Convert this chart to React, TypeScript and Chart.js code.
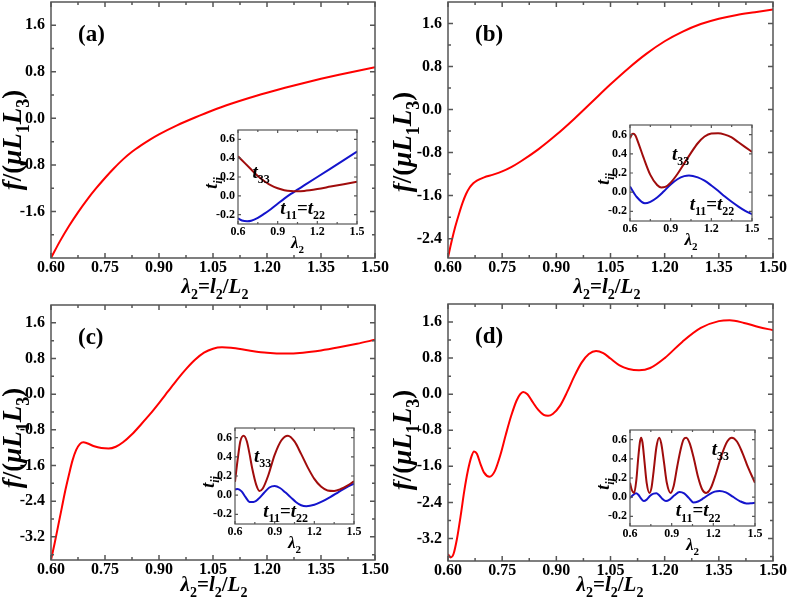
import React, { useEffect, useRef } from 'react';
import { Chart, registerables } from 'chart.js';

Chart.register(...registerables);

// ---------------- data ----------------
const xA = [0.6, 0.625, 0.65, 0.675, 0.7, 0.725, 0.75, 0.775, 0.8, 0.825, 0.85, 0.875, 0.9, 0.95, 1.0, 1.05, 1.1, 1.15, 1.2, 1.25, 1.3, 1.35, 1.4, 1.45, 1.5];
const fA = [-2.4, -2.11, -1.85, -1.615, -1.4, -1.205, -1.025, -0.858, -0.705, -0.575, -0.465, -0.365, -0.275, -0.12, 0.015, 0.14, 0.25, 0.35, 0.44, 0.525, 0.605, 0.68, 0.75, 0.815, 0.88];

const xB = [0.6, 0.61, 0.62, 0.63, 0.64, 0.65, 0.66, 0.67, 0.68, 0.7, 0.725, 0.75, 0.775, 0.8, 0.85, 0.9, 0.95, 1.0, 1.05, 1.1, 1.15, 1.2, 1.25, 1.3, 1.35, 1.4, 1.45, 1.5];
const fB = [-2.75, -2.45, -2.18, -1.95, -1.74, -1.57, -1.45, -1.37, -1.32, -1.26, -1.21, -1.15, -1.07, -0.97, -0.74, -0.47, -0.17, 0.15, 0.47, 0.77, 1.04, 1.27, 1.45, 1.59, 1.69, 1.76, 1.81, 1.86];

const xC = [0.6, 0.61, 0.62, 0.63, 0.64, 0.65, 0.66, 0.67, 0.68, 0.69, 0.7, 0.72, 0.74, 0.76, 0.78, 0.8, 0.825, 0.85, 0.875, 0.9, 0.925, 0.95, 0.975, 1.0, 1.025, 1.05, 1.075, 1.1, 1.15, 1.2, 1.25, 1.3, 1.35, 1.4, 1.45, 1.5];
const fC = [-3.72, -3.35, -2.95, -2.55, -2.15, -1.8, -1.48, -1.25, -1.12, -1.08, -1.1, -1.17, -1.21, -1.22, -1.18, -1.08, -0.9, -0.68, -0.45, -0.2, 0.06, 0.32, 0.56, 0.77, 0.93, 1.02, 1.05, 1.04, 0.98, 0.93, 0.91, 0.93, 0.98, 1.05, 1.13, 1.22];

const xD = [0.6, 0.607, 0.615, 0.625, 0.635, 0.645, 0.655, 0.665, 0.672, 0.68, 0.69, 0.7, 0.715, 0.73, 0.745, 0.76, 0.775, 0.79, 0.8, 0.808, 0.82, 0.835, 0.85, 0.865, 0.877, 0.89, 0.91, 0.93, 0.95, 0.97, 0.99, 1.01, 1.03, 1.05, 1.075, 1.1, 1.129, 1.16, 1.2, 1.25, 1.3, 1.35, 1.38, 1.42, 1.46, 1.5];
const fD = [-3.55, -3.62, -3.55, -3.2, -2.7, -2.15, -1.7, -1.38, -1.27, -1.32, -1.55, -1.74, -1.83, -1.7, -1.35, -0.9, -0.48, -0.14, 0.0, 0.05, 0.0, -0.18, -0.35, -0.46, -0.48, -0.44, -0.26, 0.05, 0.4, 0.7, 0.89, 0.96, 0.91, 0.79, 0.64, 0.56, 0.53, 0.58, 0.8, 1.17, 1.47, 1.62, 1.64, 1.58, 1.49, 1.42];

// insets: t33 and t11 = t22
const a33x = [0.6, 0.65, 0.7, 0.75, 0.8, 0.85, 0.9, 0.95, 1.0, 1.05, 1.1, 1.2, 1.3, 1.4, 1.5];
const a33 = [0.42, 0.35, 0.28, 0.21, 0.155, 0.11, 0.08, 0.06, 0.05, 0.048, 0.052, 0.072, 0.098, 0.124, 0.15];
const a11x = [0.6, 0.63, 0.67, 0.7, 0.75, 0.8, 0.85, 0.9, 0.95, 1.0, 1.05, 1.1, 1.2, 1.3, 1.4, 1.5];
const a11 = [-0.24, -0.262, -0.27, -0.265, -0.235, -0.19, -0.14, -0.085, -0.03, 0.02, 0.065, 0.11, 0.2, 0.29, 0.38, 0.47];

const b33x = [0.6, 0.612, 0.625, 0.64, 0.66, 0.7, 0.75, 0.8, 0.83, 0.86, 0.9, 0.95, 1.0, 1.05, 1.1, 1.15, 1.2, 1.25, 1.3, 1.35, 1.4, 1.45, 1.5];
const b33 = [0.56, 0.6, 0.61, 0.59, 0.52, 0.36, 0.18, 0.075, 0.05, 0.055, 0.1, 0.19, 0.3, 0.41, 0.51, 0.58, 0.612, 0.615, 0.6, 0.57, 0.52, 0.47, 0.42];
const b11x = [0.6, 0.65, 0.71, 0.75, 0.8, 0.85, 0.9, 0.95, 1.0, 1.035, 1.1, 1.15, 1.2, 1.25, 1.3, 1.35, 1.4, 1.45, 1.5];
const b11 = [0.06, -0.05, -0.115, -0.1, -0.055, 0.01, 0.08, 0.135, 0.167, 0.175, 0.155, 0.12, 0.07, 0.015, -0.045, -0.1, -0.15, -0.195, -0.23];

const c33x = [0.6, 0.62, 0.64, 0.665, 0.69, 0.71, 0.73, 0.76, 0.785, 0.81, 0.85, 0.9, 0.95, 1.0, 1.05, 1.1, 1.15, 1.2, 1.25, 1.3, 1.35, 1.4, 1.45, 1.5];
const c33 = [0.14, 0.37, 0.56, 0.62, 0.56, 0.43, 0.28, 0.11, 0.045, 0.07, 0.2, 0.42, 0.57, 0.62, 0.56, 0.43, 0.29, 0.17, 0.09, 0.05, 0.045, 0.065, 0.1, 0.145];
const c11x = [0.6, 0.62, 0.65, 0.68, 0.71, 0.74, 0.78, 0.82, 0.86, 0.9, 0.94, 0.98, 1.02, 1.06, 1.1, 1.14, 1.2, 1.26, 1.32, 1.38, 1.44, 1.5];
const c11 = [0.06, 0.065, 0.04, -0.02, -0.07, -0.072, -0.035, 0.025, 0.08, 0.095, 0.075, 0.03, -0.02, -0.07, -0.105, -0.115, -0.1, -0.065, -0.02, 0.03, 0.08, 0.12];

const d33x = [0.6, 0.612, 0.63, 0.645, 0.66, 0.672, 0.68, 0.69, 0.705, 0.72, 0.74, 0.755, 0.77, 0.79, 0.81, 0.825, 0.845, 0.865, 0.892, 0.915, 0.94, 0.965, 0.985, 1.005, 1.03, 1.06, 1.09, 1.12, 1.148, 1.18, 1.22, 1.26, 1.3, 1.333, 1.37, 1.41, 1.45, 1.5];
const d33 = [0.15, 0.08, 0.045, 0.17, 0.42, 0.58, 0.62, 0.57, 0.36, 0.15, 0.045, 0.1, 0.27, 0.52, 0.62, 0.56, 0.36, 0.15, 0.045, 0.12, 0.32, 0.5, 0.6, 0.62, 0.56, 0.4, 0.21, 0.08, 0.045, 0.09, 0.25, 0.44, 0.58, 0.62, 0.58, 0.46, 0.31, 0.15];
const d11x = [0.6, 0.62, 0.644, 0.66, 0.68, 0.699, 0.72, 0.745, 0.77, 0.79, 0.81, 0.835, 0.859, 0.885, 0.92, 0.957, 0.99, 1.025, 1.056, 1.09, 1.13, 1.17, 1.21, 1.245, 1.29, 1.34, 1.39, 1.438, 1.47, 1.5];
const d11 = [-0.01, 0.02, 0.04, 0.025, -0.015, -0.04, -0.025, 0.015, 0.037, 0.04, 0.02, -0.02, -0.04, -0.025, 0.02, 0.055, 0.04, -0.01, -0.055, -0.045, -0.01, 0.03, 0.058, 0.065, 0.05, 0.005, -0.04, -0.065, -0.063, -0.058];

// tick labels
const mainXTicks = [0.6, 0.75, 0.9, 1.05, 1.2, 1.35, 1.5];
const mainYTicks = [1.6, 0.8, 0.0, -0.8, -1.6, -2.4, -3.2];
const insetXTicks = [0.6, 0.9, 1.2, 1.5];
const insetYTicks = [0.6, 0.4, 0.2, 0.0, -0.2];

// ---------------- styling / layout ----------------
const SERIF = '"Liberation Serif", "DejaVu Serif", "Times New Roman", Times, serif';
const RED = '#ff0000';
const DARKRED = '#a00c0c';
const BLUE = '#1414cc';
const FRAME = '#555555';

type Seg = { t: string; it?: boolean; sub?: boolean };

const X_TITLE: Seg[] = [{ t: 'λ', it: true }, { t: '2', sub: true }, { t: '=' }, { t: 'l', it: true }, { t: '2', sub: true }, { t: '/' }, { t: 'L', it: true }, { t: '2', sub: true }];
const Y_TITLE: Seg[] = [{ t: 'f', it: true }, { t: '/' }, { t: '(' }, { t: 'μ', it: true }, { t: 'L', it: true }, { t: '1', sub: true }, { t: 'L', it: true }, { t: '3', sub: true }, { t: ')' }];
const IN_X_TITLE: Seg[] = [{ t: 'λ', it: true }, { t: '2', sub: true }];
const IN_Y_TITLE: Seg[] = [{ t: 't', it: true }, { t: 'ij', it: true, sub: true }];
const T33_LABEL: Seg[] = [{ t: 't', it: true }, { t: '33', sub: true }];
const T11_LABEL: Seg[] = [{ t: 't', it: true }, { t: '11', sub: true }, { t: '=' }, { t: 't', it: true }, { t: '22', sub: true }];

function drawRich(ctx: CanvasRenderingContext2D, segs: Seg[], x: number, y: number, size: number, align: 'left' | 'center', rot = 0) {
  ctx.save();
  ctx.translate(x, y);
  ctx.rotate(rot);
  const fontOf = (s: Seg) => `${s.it ? 'italic ' : ''}bold ${s.sub ? Math.round(size * 0.65) : size}px ${SERIF}`;
  let total = 0;
  const widths = segs.map((s) => {
    ctx.font = fontOf(s);
    const w = ctx.measureText(s.t).width;
    total += w;
    return w;
  });
  let cx = align === 'center' ? -total / 2 : 0;
  ctx.textAlign = 'left';
  ctx.textBaseline = 'alphabetic';
  ctx.fillStyle = '#000';
  segs.forEach((s, i) => {
    ctx.font = fontOf(s);
    ctx.fillText(s.t, cx, s.sub ? size * 0.28 : 0);
    cx += widths[i];
  });
  ctx.restore();
}

const pts = (xs: number[], ys: number[]) => xs.map((x, i) => ({ x, y: ys[i] }));

type PanelCfg = {
  label: string;
  cx: number; cy: number; W: number; H: number;
  plot: { l: number; r: number; t: number; b: number };
  yMin: number; yMax: number;
  xs: number[]; ys: number[];
  xTitleX: number; xTitleBase: number; yTitleBase: number; yTitleY: number;
  box: { l: number; r: number; t: number; b: number };
  t33x: number[]; t33: number[]; t11x: number[]; t11: number[];
  ann33: [number, number]; ann11: [number, number];
};

const panels: PanelCfg[] = [
  {
    label: '(a)', cx: 0, cy: 0, W: 393, H: 300, plot: { l: 51, r: 375, t: 2, b: 258 }, yMin: -2.4, yMax: 2.0,
    xs: xA, ys: fA, xTitleX: 215, xTitleBase: 293, yTitleBase: 21, yTitleY: 140,
    box: { l: 238, r: 357, t: 130, b: 224 }, t33x: a33x, t33: a33, t11x: a11x, t11: a11, ann33: [0.71, 0.19], ann11: [0.92, -0.19],
  },
  {
    label: '(b)', cx: 393, cy: 0, W: 394, H: 300, plot: { l: 448, r: 773, t: 2, b: 258 }, yMin: -2.76, yMax: 2.0,
    xs: xB, ys: fB, xTitleX: 607, xTitleBase: 293, yTitleBase: 411, yTitleY: 142,
    box: { l: 630, r: 752, t: 125, b: 221 }, t33x: b33x, t33: b33, t11x: b11x, t11: b11, ann33: [0.91, 0.335], ann11: [1.04, -0.185],
  },
  {
    label: '(c)', cx: 0, cy: 300, W: 393, H: 304, plot: { l: 51, r: 375, t: 305, b: 560 }, yMin: -3.72, yMax: 2.0,
    xs: xC, ys: fC, xTitleX: 214, xTitleBase: 591, yTitleBase: 21, yTitleY: 438,
    box: { l: 235, r: 354, t: 428, b: 524 }, t33x: c33x, t33: c33, t11x: c11x, t11: c11, ann33: [0.744, 0.35], ann11: [0.814, -0.224],
  },
  {
    label: '(d)', cx: 393, cy: 300, W: 394, H: 304, plot: { l: 448, r: 773, t: 304, b: 561 }, yMin: -3.7, yMax: 2.0,
    xs: xD, ys: fD, xTitleX: 610, xTitleBase: 591, yTitleBase: 411, yTitleY: 440,
    box: { l: 630, r: 755, t: 430, b: 526 }, t33x: d33x, t33: d33, t11x: d11x, t11: d11, ann33: [1.188, 0.44], ann11: [0.93, -0.2],
  },
];

const IN_PAD = { l: 45, r: 12, t: 8, b: 32 };
const insetRect = (p: PanelCfg) => ({
  x: p.box.l - IN_PAD.l, y: p.box.t - IN_PAD.t,
  w: p.box.r - p.box.l + IN_PAD.l + IN_PAD.r, h: p.box.b - p.box.t + IN_PAD.t + IN_PAD.b,
});

function drawTicks(ctx: CanvasRenderingContext2D, chart: any, xMaj: number[], xMin: number[], yMaj: number[], yMin: number[], lMaj: number, lMin: number) {
  const { left, right, top, bottom } = chart.chartArea;
  const sx = chart.scales.x, sy = chart.scales.y;
  ctx.beginPath();
  const doX = (vals: number[], len: number) => vals.forEach((v) => {
    const px = sx.getPixelForValue(v);
    ctx.moveTo(px, bottom); ctx.lineTo(px, bottom - len);
    ctx.moveTo(px, top); ctx.lineTo(px, top + len);
  });
  const doY = (vals: number[], len: number) => vals.forEach((v) => {
    const py = sy.getPixelForValue(v);
    ctx.moveTo(left, py); ctx.lineTo(left + len, py);
    ctx.moveTo(right, py); ctx.lineTo(right - len, py);
  });
  doX(xMaj, lMaj); doX(xMin, lMin); doY(yMaj, lMaj); doY(yMin, lMin);
  ctx.stroke();
}

function makeMain(canvas: HTMLCanvasElement, p: PanelCfg) {
  const { cx, cy, W, H, plot } = p;
  const shownY = mainYTicks.filter((v) => v > p.yMin + 0.05 && v < p.yMax - 0.05);
  const deco = {
    id: 'decoMain',
    afterDraw(chart: any) {
      const ctx = chart.ctx as CanvasRenderingContext2D;
      const { left, right, top, bottom } = chart.chartArea;
      ctx.save();
      ctx.strokeStyle = FRAME;
      ctx.lineWidth = 1.5;
      const xMin = mainXTicks.slice(1).map((v, i) => (v + mainXTicks[i]) / 2);
      const yMaj = mainYTicks.filter((v) => v > p.yMin && v < p.yMax);
      const yMinT = Array.from(new Set(mainYTicks.flatMap((v) => [v + 0.4, v - 0.4]).map((v) => Math.round(v * 10) / 10)))
        .filter((v) => v > p.yMin && v < p.yMax);
      drawTicks(ctx, chart, mainXTicks, xMin, yMaj, yMinT, 5, 3);
      ctx.strokeRect(left, top, right - left, bottom - top);
      drawRich(ctx, X_TITLE, p.xTitleX - cx, p.xTitleBase - cy, 21, 'center');
      drawRich(ctx, Y_TITLE, p.yTitleBase - cx, p.yTitleY - cy, 27, 'center', -Math.PI / 2);
      ctx.font = `bold 23px ${SERIF}`;
      ctx.fillStyle = '#000';
      ctx.textAlign = 'left';
      ctx.textBaseline = 'alphabetic';
      ctx.fillText(p.label, plot.l - cx + 27, plot.t - cy + 39);
      ctx.restore();
    },
  };
  return new Chart(canvas, {
    type: 'line',
    data: {
      datasets: [{
        data: pts(p.xs, p.ys), borderColor: RED, borderWidth: 2, pointRadius: 0,
        cubicInterpolationMode: 'monotone', fill: false,
      }],
    },
    options: {
      animation: false, responsive: false, events: [],
      layout: { padding: { left: 0, top: plot.t - cy, right: cx + W - plot.r, bottom: 0 } },
      plugins: { legend: { display: false }, tooltip: { enabled: false } },
      scales: {
        x: {
          type: 'linear', min: 0.6, max: 1.5,
          grid: { display: false, drawTicks: false }, border: { display: false },
          afterBuildTicks: (s: any) => { s.ticks = mainXTicks.map((v) => ({ value: v })); },
          afterFit: (s: any) => { s.height = cy + H - plot.b; s.paddingLeft = 0; s.paddingRight = 0; },
          ticks: {
            autoSkip: false, maxRotation: 0, padding: 0, color: '#000',
            font: { family: SERIF, size: 16, weight: 'bold' },
            callback: (v: any) => Number(v).toFixed(2),
          },
        },
        y: {
          type: 'linear', min: p.yMin, max: p.yMax,
          grid: { display: false, drawTicks: false }, border: { display: false },
          afterBuildTicks: (s: any) => { s.ticks = shownY.map((v) => ({ value: v })); },
          afterFit: (s: any) => { s.width = plot.l - cx; s.paddingTop = 0; s.paddingBottom = 0; },
          ticks: {
            autoSkip: false, padding: 6, color: '#000',
            font: { family: SERIF, size: 16, weight: 'bold' },
            callback: (v: any) => Number(v).toFixed(1),
          },
        },
      },
    },
    plugins: [deco],
  } as any);
}

function makeInset(canvas: HTMLCanvasElement, p: PanelCfg) {
  const deco = {
    id: 'decoInset',
    afterDraw(chart: any) {
      const ctx = chart.ctx as CanvasRenderingContext2D;
      const { left, right, top, bottom } = chart.chartArea;
      const sx = chart.scales.x, sy = chart.scales.y;
      ctx.save();
      ctx.strokeStyle = FRAME;
      ctx.lineWidth = 1.2;
      const xMin = insetXTicks.slice(1).map((v, i) => (v + insetXTicks[i]) / 2);
      drawTicks(ctx, chart, insetXTicks, xMin, insetYTicks, [], 3, 2);
      ctx.strokeRect(left, top, right - left, bottom - top);
      drawRich(ctx, IN_X_TITLE, (left + right) / 2, bottom + 24, 17, 'center');
      drawRich(ctx, IN_Y_TITLE, left - 21, (top + bottom) / 2 + 6, 18, 'center', -Math.PI / 2);
      drawRich(ctx, T33_LABEL, sx.getPixelForValue(p.ann33[0]), sy.getPixelForValue(p.ann33[1]), 19, 'left');
      drawRich(ctx, T11_LABEL, sx.getPixelForValue(p.ann11[0]), sy.getPixelForValue(p.ann11[1]), 19, 'left');
      ctx.restore();
    },
  };
  return new Chart(canvas, {
    type: 'line',
    data: {
      datasets: [
        { data: pts(p.t33x, p.t33), borderColor: DARKRED, borderWidth: 2, pointRadius: 0, cubicInterpolationMode: 'monotone', fill: false },
        { data: pts(p.t11x, p.t11), borderColor: BLUE, borderWidth: 2, pointRadius: 0, cubicInterpolationMode: 'monotone', fill: false },
      ],
    },
    options: {
      animation: false, responsive: false, events: [],
      layout: { padding: { left: 0, top: IN_PAD.t, right: IN_PAD.r, bottom: 0 } },
      plugins: { legend: { display: false }, tooltip: { enabled: false } },
      scales: {
        x: {
          type: 'linear', min: 0.6, max: 1.5,
          grid: { display: false, drawTicks: false }, border: { display: false },
          afterBuildTicks: (s: any) => { s.ticks = insetXTicks.map((v) => ({ value: v })); },
          afterFit: (s: any) => { s.height = IN_PAD.b; s.paddingLeft = 0; s.paddingRight = 0; },
          ticks: {
            autoSkip: false, maxRotation: 0, padding: 1, color: '#000',
            font: { family: SERIF, size: 12, weight: 'bold' },
            callback: (v: any) => Number(v).toFixed(1),
          },
        },
        y: {
          type: 'linear', min: -0.3, max: 0.7,
          grid: { display: false, drawTicks: false }, border: { display: false },
          afterBuildTicks: (s: any) => { s.ticks = insetYTicks.map((v) => ({ value: v })); },
          afterFit: (s: any) => { s.width = IN_PAD.l; s.paddingTop = 0; s.paddingBottom = 0; },
          ticks: {
            autoSkip: false, padding: 3, color: '#000',
            font: { family: SERIF, size: 12, weight: 'bold' },
            callback: (v: any) => Number(v).toFixed(1),
          },
        },
      },
    },
    plugins: [deco],
  } as any);
}

function Panel({ p }: { p: PanelCfg }) {
  const mainRef = useRef<HTMLCanvasElement>(null);
  const insetRef = useRef<HTMLCanvasElement>(null);
  useEffect(() => {
    const c1 = makeMain(mainRef.current!, p);
    const c2 = makeInset(insetRef.current!, p);
    return () => {
      c1.destroy();
      c2.destroy();
    };
  }, [p]);
  const r = insetRect(p);
  return (
    <>
      <canvas ref={mainRef} width={p.W} height={p.H} style={{ position: 'absolute', left: p.cx, top: p.cy, width: p.W, height: p.H }} />
      <canvas ref={insetRef} width={r.w} height={r.h} style={{ position: 'absolute', left: r.x, top: r.y, width: r.w, height: r.h }} />
    </>
  );
}

export default function App() {
  return (
    <div style={{ position: 'fixed', left: 0, top: 0, width: 787, height: 604, background: '#fff', overflow: 'hidden' }}>
      {panels.map((p) => <Panel key={p.label} p={p} />)}
    </div>
  );
}
